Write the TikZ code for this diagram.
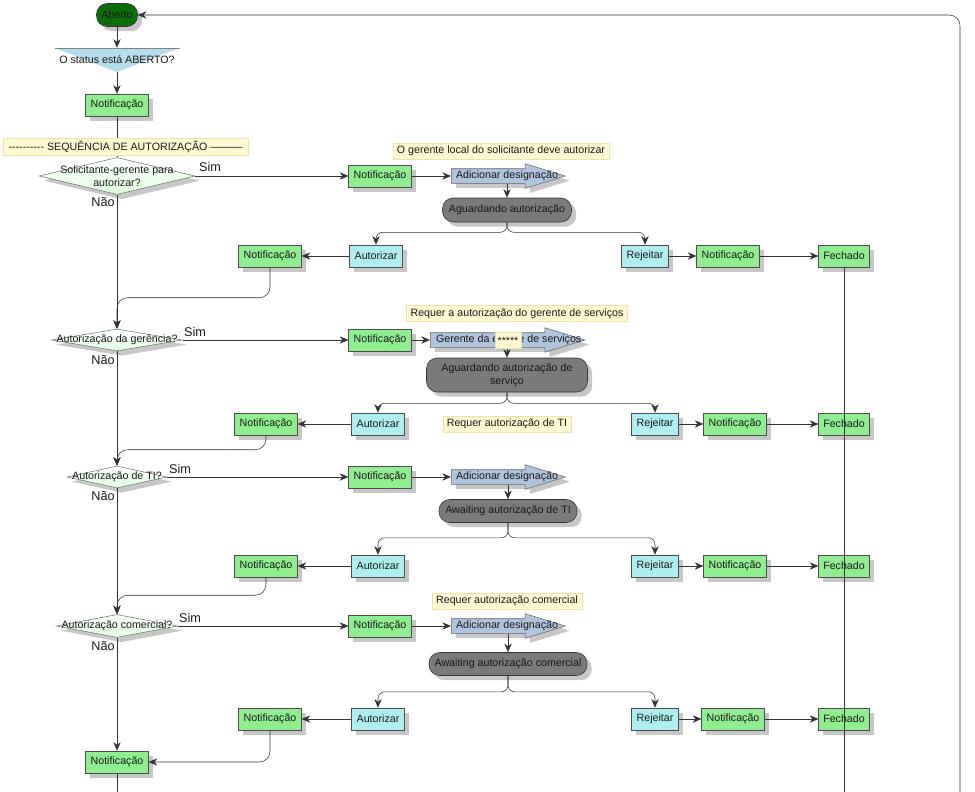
\documentclass[tikz,border=0pt]{standalone}
\usepackage{fontspec}
\setmainfont{Liberation Sans}
\usepackage{tikz}
\usetikzlibrary{positioning, arrows.meta, shapes.geometric, shapes.arrows, shadows, calc}

\definecolor{NotifyGreen}{HTML}{90EE90}
\definecolor{ActCyan}{HTML}{AFEEEE}
\definecolor{NoteYellow}{HTML}{FFF9D2}
\definecolor{NoteEdge}{HTML}{EDE3A6}
\definecolor{StepBlue}{HTML}{B0C4DE}
\definecolor{StatusBlue}{HTML}{B4DDEB}
\definecolor{WaitGray}{HTML}{7A7A7A}
\definecolor{OpenGreen}{HTML}{0B6E0B}
\definecolor{LineGray}{HTML}{333333}

\begin{document}
\begin{tikzpicture}[x=0.75pt, y=-0.75pt, font=\fontsize{8}{9.5}\selectfont,
    every node/.style={inner sep=0pt, text=black!90},
    boxshadow/.style={drop shadow={shadow xshift=3.5pt, shadow yshift=-3.5pt, fill=black!22, opacity=1}},
    flow/.style={draw=LineGray, -{Stealth[length=6.5pt, width=5.5pt]}},
    link/.style={draw=LineGray},
    notify/.style={boxshadow, draw=black!70, fill=NotifyGreen, minimum width=47pt, minimum height=16.5pt},
    closed/.style={notify, minimum width=38pt},
    authorize/.style={boxshadow, draw=black!70, fill=ActCyan, minimum width=40pt, minimum height=16.5pt},
    reject/.style={authorize, minimum width=35pt},
    note/.style={draw=NoteEdge, fill=NoteYellow, minimum height=12pt, inner xsep=3pt},
    wait/.style={boxshadow, draw=black!80, fill=WaitGray, rounded corners=8pt, minimum height=17.5pt},
    decision/.style={diamond, boxshadow, draw=black!55, top color=white, bottom color=green!12},
    assign/.style={single arrow, boxshadow, draw=black!60, fill=StepBlue, single arrow tip angle=34,
        single arrow head extend=3.75pt, inner xsep=0pt, inner ysep=5.25pt, anchor=tail},
    answer/.style={font=\fontsize{9.5}{11}\selectfont}
]
    \useasboundingbox (0,0) rectangle (975,792);

    \node (Open) [boxshadow, draw=black!80, fill=OpenGreen, rounded corners=8pt, minimum width=30.75pt, minimum height=17.25pt] at (117,15) {Aberto};
    \node (Status) [fill=white, minimum width=93.75pt, minimum height=18pt, path picture={
        \shade [top color=StatusBlue, middle color=white, bottom color=StatusBlue] (path picture bounding box.north west) -- (path picture bounding box.north east) -- (path picture bounding box.south) -- cycle;
        \draw [black!50] (path picture bounding box.north west) -- (path picture bounding box.north east);}] at (117,60) {O status está ABERTO?};
    \node (Notify0) [notify] at (117,105) {Notificação};

    \node (AskLocal) [decision, minimum width=117pt, minimum height=27.75pt, label={[align=center]center:Solicitante-gerente para\\autorizar?}] at (117,176) {};
    \node (YesA) [answer] at (210,167) {Sim};
    \node (NoA) [answer] at (103,202) {Não};
    \node (NotifyA) [notify] at (380,176) {Notificação};
    \node (AssignA) [assign, minimum height=85.5pt, label={[xshift=8pt]center:Adicionar designação}] at (451,176) {};
    \node (WaitA) [wait, minimum width=96.75pt, minimum height=18pt] at (507,210) {Aguardando autorização};
    \node (AuthA) [authorize] at (376,256) {Autorizar};
    \node (RejA) [reject] at (645,256) {Rejeitar};
    \node (NotifyLA) [notify] at (270,256) {Notificação};
    \node (NotifyRA) [notify] at (728,256) {Notificação};
    \node (CloseA) [closed] at (844,256) {Fechado};

    \node (AskService) [decision, minimum width=98pt, minimum height=16.5pt, label=center:{Autorização da gerência?}] at (117,340) {};
    \node (YesB) [answer] at (195,332) {Sim};
    \node (NoB) [answer] at (103,360) {Não};
    \node (NotifyB) [notify] at (380,340) {Notificação};
    \node (AssignB) [assign, minimum height=116pt, label={[xshift=9.75pt]center:Gerente da equipe de serviços}] at (430,340) {};
    \node (WaitB) [wait, align=center, minimum width=120.75pt, minimum height=25.5pt] at (507,375) {Aguardando autorização de\\serviço};
    \node (AuthB) [authorize] at (378,424) {Autorizar};
    \node (RejB) [reject] at (655,424) {Rejeitar};
    \node (NotifyLB) [notify] at (266,424) {Notificação};
    \node (NotifyRB) [notify] at (735,424) {Notificação};
    \node (CloseB) [closed] at (844,424) {Fechado};

    \node (AskIT) [decision, minimum width=75pt, minimum height=16.5pt, label=center:{Autorização de TI?}] at (117,477) {};
    \node (YesC) [answer] at (180,469) {Sim};
    \node (NoC) [answer] at (103,496) {Não};
    \node (NotifyC) [notify] at (380,477) {Notificação};
    \node (AssignC) [assign, minimum height=85.5pt, label={[xshift=8pt]center:Adicionar designação}] at (451,477) {};
    \node (WaitC) [wait, minimum width=103.5pt, minimum height=17.25pt] at (508,511) {Awaiting autorização de TI};
    \node (AuthC) [authorize] at (378,566) {Autorizar};
    \node (RejC) [reject] at (655,566) {Rejeitar};
    \node (NotifyLC) [notify] at (266,566) {Notificação};
    \node (NotifyRC) [notify] at (735,566) {Notificação};
    \node (CloseC) [closed] at (844,566) {Fechado};

    \node (AskComm) [decision, minimum width=91pt, minimum height=17.25pt, label=center:{Autorização comercial?}] at (117,626) {};
    \node (YesD) [answer] at (190,618) {Sim};
    \node (NoD) [answer] at (103,646) {Não};
    \node (NotifyD) [notify] at (380,626) {Notificação};
    \node (AssignD) [assign, minimum height=85.5pt, label={[xshift=8pt]center:Adicionar designação}] at (451,626) {};
    \node (WaitD) [wait, minimum width=118.5pt, minimum height=17.25pt] at (508,664) {Awaiting autorização comercial};
    \node (AuthD) [authorize] at (378,719) {Autorizar};
    \node (RejD) [reject] at (655,719) {Rejeitar};
    \node (NotifyLD) [notify] at (270,719) {Notificação};
    \node (NotifyRD) [notify] at (733,719) {Notificação};
    \node (CloseD) [closed] at (844,719) {Fechado};

    \node (Final) [notify] at (117,762) {Notificação};

    \coordinate (EndLeft) at (117,792);
    \coordinate (EndClose) at (844,792);
    \coordinate (EndRight) at (960,792);

    \draw [flow] (Open) -- (Status);
    \draw [flow] (Status) -- (Notify0);
    \draw [link] (Notify0) -- (AskLocal);

    \draw [flow] (AskLocal) -- (NotifyA);
    \draw [flow] (NotifyA) -- (AssignA.tail);
    \draw [flow] ($(AssignA.tail -| WaitA.north)+(0,8)$) -- (WaitA.north);
    \draw [flow, rounded corners=5pt] (WaitA.south) -- ++(0,10) -| (AuthA.north);
    \draw [flow, rounded corners=5pt] (WaitA.south) -- ++(0,10) -| (RejA.north);
    \draw [flow] (AuthA) -- (NotifyLA);
    \draw [flow] (RejA) -- (NotifyRA);
    \draw [flow] (NotifyRA) -- (CloseA);
    \draw [flow, rounded corners=8pt] (NotifyLA.south) |- ($(AskService.north)+(0,-31)$) -- (AskService.north);
    \draw [flow] (AskLocal) -- (AskService);

    \draw [flow] (AskService) -- (NotifyB);
    \draw [flow] (NotifyB) -- (AssignB.tail);
    \draw [flow] ($(AssignB.tail -| WaitB.north)+(0,8)$) -- (WaitB.north);
    \draw [flow, rounded corners=5pt] (WaitB.south) -- ++(0,11) -| (AuthB.north);
    \draw [flow, rounded corners=5pt] (WaitB.south) -- ++(0,11) -| (RejB.north);
    \draw [flow] (AuthB) -- (NotifyLB);
    \draw [flow] (RejB) -- (NotifyRB);
    \draw [flow] (NotifyRB) -- (CloseB);
    \draw [flow, rounded corners=8pt] (NotifyLB.south) |- ($(AskIT.north)+(0,-16)$) -- (AskIT.north);
    \draw [flow] (AskService) -- (AskIT);

    \draw [flow] (AskIT) -- (NotifyC);
    \draw [flow] (NotifyC) -- (AssignC.tail);
    \draw [flow] ($(AssignC.tail -| WaitC.north)+(0,8)$) -- (WaitC.north);
    \draw [flow, rounded corners=5pt] (WaitC.south) -- ++(0,15) -| (AuthC.north);
    \draw [flow, rounded corners=5pt] (WaitC.south) -- ++(0,15) -| (RejC.north);
    \draw [flow] (AuthC) -- (NotifyLC);
    \draw [flow] (RejC) -- (NotifyRC);
    \draw [flow] (NotifyRC) -- (CloseC);
    \draw [flow, rounded corners=8pt] (NotifyLC.south) |- ($(AskComm.north)+(0,-19)$) -- (AskComm.north);
    \draw [flow] (AskIT) -- (AskComm);

    \draw [flow] (AskComm) -- (NotifyD);
    \draw [flow] (NotifyD) -- (AssignD.tail);
    \draw [flow] ($(AssignD.tail -| WaitD.north)+(0,8)$) -- (WaitD.north);
    \draw [flow, rounded corners=5pt] (WaitD.south) -- ++(0,16) -| (AuthD.north);
    \draw [flow, rounded corners=5pt] (WaitD.south) -- ++(0,16) -| (RejD.north);
    \draw [flow] (AuthD) -- (NotifyLD);
    \draw [flow] (RejD) -- (NotifyRD);
    \draw [flow] (NotifyRD) -- (CloseD);
    \draw [flow, rounded corners=8pt] (NotifyLD.south) |- (Final.east);
    \draw [flow] (AskComm) -- (Final);

    \draw [link] (Final) -- (EndLeft);
    \draw [link] (CloseA) -- (EndClose);
    \draw [flow, rounded corners=8pt] (EndRight) |- (Open);

    \node (SeqNote) [note, minimum width=183.75pt, minimum height=12.75pt] at (125.5,146.5) {\foreach \i in {1,...,10}{\mbox{-}} SEQUÊNCIA DE AUTORIZAÇÃO ———};
    \node (NoteA) [note] at (501,151) {O gerente local do solicitante deve autorizar};
    \node (NoteB) [note] at (517,313.5) {Requer a autorização do gerente de serviços};
    \node (NoteC) [note] at (507,424) {Requer autorização de TI};
    \node (NoteD) [note] at (507,601) {Requer autorização comercial};
    \node (Stars) [note, inner xsep=2pt] at (508,340.5) {*****};
\end{tikzpicture}
\end{document}
